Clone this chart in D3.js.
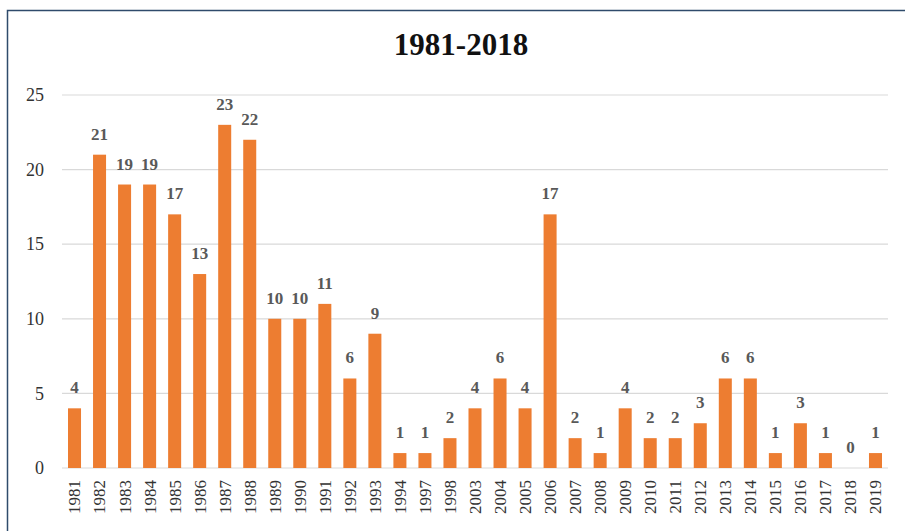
<!DOCTYPE html>
<html lang="en">
<head>
  <meta charset="UTF-8" />
  <title>1981-2018</title>
  <script src="https://d3js.org/d3.v7.min.js"></script>
  <style>
    body {
      margin: 0;
      background: #fff;
    }
    svg {
      display: block;
    }
    svg text {
      font-family: "Liberation Serif", "Times New Roman", serif !important;
    }
  </style>
</head>
<body>
  <svg width="905" height="531"></svg>

  <script>
    const years = ["1981", "1982", "1983", "1984", "1985", "1986", "1987", "1988", "1989", "1990",
                   "1991", "1992", "1993", "1994", "1997", "1998", "2003", "2004", "2005", "2006",
                   "2007", "2008", "2009", "2010", "2011", "2012", "2013", "2014", "2015", "2016",
                   "2017", "2018", "2019"];
    const counts = [4, 21, 19, 19, 17, 13, 23, 22, 10, 10,
                    11, 6, 9, 1, 1, 2, 4, 6, 4, 17,
                    2, 1, 4, 2, 2, 3, 6, 6, 1, 3,
                    1, 0, 1];
    const yTicks = [0, 5, 10, 15, 20, 25];
    const title = "1981-2018";

    const svg = d3.select("svg"),
          margin = { top: 95, right: 17, bottom: 63, left: 62 },
          width = +svg.attr("width") - margin.left - margin.right,
          height = +svg.attr("height") - margin.top - margin.bottom;

    // outer frame (right edge runs off the picture)
    svg.append("rect")
      .attr("x", 7.5).attr("y", 10.5)
      .attr("width", 920).attr("height", 540)
      .attr("fill", "none")
      .attr("stroke", "#2f4b6b")
      .attr("stroke-width", 1.5);

    svg.append("text")
      .attr("x", 461).attr("y", 55)
      .attr("text-anchor", "middle")
      .attr("font-size", 31)
      .attr("font-weight", "bold")
      .attr("fill", "#111")
      .text(title);

    const g = svg.append("g").attr("transform", `translate(${margin.left},${margin.top})`);

    const x = d3.scaleBand().domain(years).range([0, width]).paddingInner(0.48).paddingOuter(0.24);
    const y = d3.scaleLinear().domain([0, 25]).range([height, 0]);

    // gridlines
    g.append("g")
      .selectAll("line")
      .data(yTicks)
      .join("line")
      .attr("x1", 0).attr("x2", width)
      .attr("y1", d => y(d)).attr("y2", d => y(d))
      .attr("stroke", "#d9d9d9")
      .attr("stroke-width", 1.2);

    // y axis labels
    const yAxis = g.append("g")
      .call(d3.axisLeft(y).tickValues(yTicks).tickSize(0).tickPadding(18));
    yAxis.select(".domain").remove();
    yAxis.selectAll("text")
      .attr("font-size", 18)
      .attr("fill", "#333");

    // x axis labels
    const xAxis = g.append("g")
      .attr("transform", `translate(0,${height})`)
      .call(d3.axisBottom(x).tickSize(0));
    xAxis.select(".domain").remove();
    xAxis.selectAll("text")
      .attr("font-size", 17)
      .attr("fill", "#333")
      .attr("text-anchor", "end")
      .attr("dy", "0.35em")
      .attr("transform", "translate(0,12) rotate(-90)")
      .attr("x", 0).attr("y", 0);

    // bars
    g.append("g")
      .selectAll("rect")
      .data(years)
      .join("rect")
      .attr("x", d => x(d))
      .attr("y", (d, i) => y(counts[i]))
      .attr("width", x.bandwidth())
      .attr("height", (d, i) => height - y(counts[i]))
      .attr("fill", "#ed7d31");

    // value labels
    g.append("g")
      .selectAll("text")
      .data(years)
      .join("text")
      .attr("x", d => x(d) + x.bandwidth() / 2)
      .attr("y", (d, i) => y(counts[i]) - 15)
      .attr("text-anchor", "middle")
      .attr("font-size", 17)
      .attr("font-weight", "bold")
      .attr("fill", "#595959")
      .text((d, i) => counts[i]);
  </script>
</body>
</html>
